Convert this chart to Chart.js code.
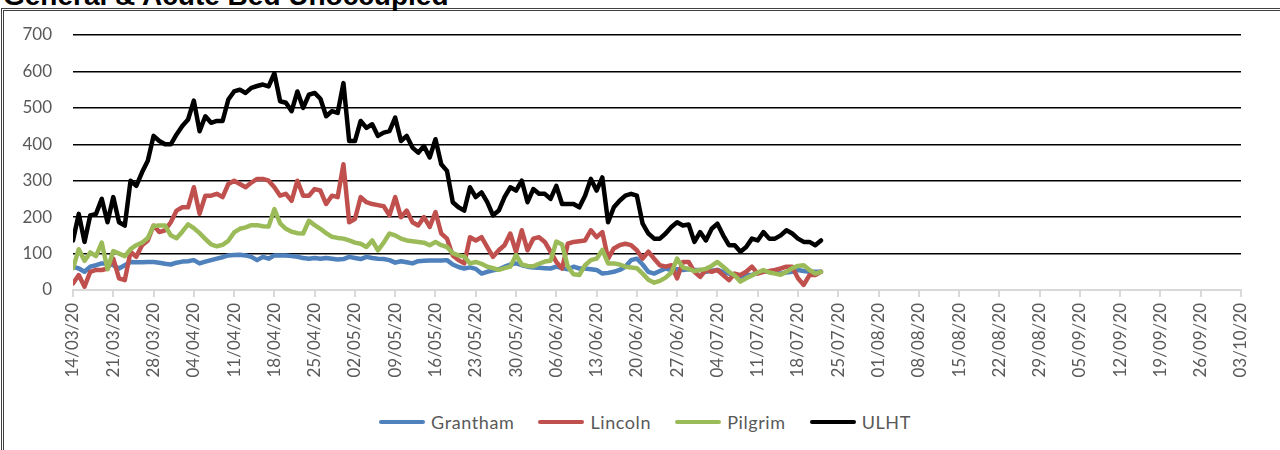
<!DOCTYPE html>
<html>
<head>
<meta charset="utf-8">
<script src="https://cdn.jsdelivr.net/npm/chart.js@4.4.0/dist/chart.umd.min.js"></script>
<style>
  html, body { margin: 0; padding: 0; background: #fff; }
  body { width: 1280px; height: 450px; overflow: hidden; position: relative; font-family: Lato, "Open Sans", sans-serif; }
  #frame { position: absolute; left: 1px; top: 8px; width: 1290px; height: 470px; border: 3px double #404040; }
  #title { position: absolute; left: 3px; top: -18px; font: bold 28px/28px "Liberation Sans", Arial, sans-serif; color: #000; white-space: nowrap; }
  #wrap { position: absolute; left: 0; top: 0; width: 1280px; height: 400px; }
  #legend { position: absolute; left: 0; top: 411px; width: 1290px; display: flex; justify-content: center; align-items: center; font-size: 18px; letter-spacing: 0.6px; color: #595959; }
  .item { display: flex; align-items: center; margin: 0 12px; }
  .swatch { display: inline-block; width: 46px; height: 4px; margin-right: 6px; border-radius: 2px; }
</style>
</head>
<body>
<div id="frame"></div>
<div id="title">General &amp; Acute Bed Unoccupied</div>
<div id="wrap"><canvas id="chart"></canvas></div>
<div id="legend"></div>
<script>
// x axis runs from 14/03/20 (day 0) to 03/10/20 (day 203), one tick a week
const tickLabels = ['14/03/20', '21/03/20', '28/03/20', '04/04/20', '11/04/20', '18/04/20', '25/04/20',
  '02/05/20', '09/05/20', '16/05/20', '23/05/20', '30/05/20', '06/06/20', '13/06/20', '20/06/20',
  '27/06/20', '04/07/20', '11/07/20', '18/07/20', '25/07/20', '01/08/20', '08/08/20', '15/08/20',
  '22/08/20', '29/08/20', '05/09/20', '12/09/20', '19/09/20', '26/09/20', '03/10/20'];
const lastDay = 203;

const seriesNames = ['Grantham', 'Lincoln', 'Pilgrim', 'ULHT'];
const seriesColors = ['#4F81BD', '#C0504D', '#9BBB59', '#000000'];

// daily values from 14/03/20
const grantham = [
  64, 59, 50, 64, 68, 73, 73, 68, 59, 68,
  77, 76, 76, 77, 77, 75, 72, 70, 75, 78,
  79, 82, 73, 78, 82, 86, 90, 95, 96, 97,
  95, 91, 82, 91, 86, 95, 95, 95, 93, 91,
  88, 86, 88, 86, 88, 86, 84, 85, 91, 88,
  85, 91, 88, 86, 85, 82, 75, 79, 76, 73,
  79, 80, 81, 81, 81, 82, 70, 63, 59, 62,
  58, 45, 50, 54, 57, 64, 70, 73, 68, 64,
  62, 61, 60, 59, 64, 60, 57, 64, 59, 59,
  57, 55, 45, 47, 50, 55, 64, 82, 86, 70,
  50, 45, 52, 59, 55, 57, 55, 57, 55, 55,
  50, 53, 55, 50, 45, 40, 36, 41, 41, 48,
  50, 50, 48, 45, 48, 50, 55, 52, 50, 50,
  50];
const lincoln = [
  18, 41, 9, 50, 55, 55, 59, 86, 32, 27,
  105, 91, 123, 136, 177, 159, 164, 186, 218, 227,
  227, 282, 209, 259, 259, 264, 255, 291, 300, 291,
  282, 295, 305, 305, 300, 282, 259, 264, 245, 300,
  259, 259, 277, 273, 236, 259, 255, 345, 186, 195,
  255, 241, 236, 233, 230, 205, 255, 200, 218, 186,
  177, 200, 173, 214, 155, 141, 95, 82, 73, 145,
  136, 145, 118, 91, 109, 123, 155, 105, 164, 109,
  141, 145, 132, 105, 77, 59, 127, 132, 134, 136,
  164, 145, 159, 86, 114, 123, 127, 123, 109, 86,
  105, 86, 68, 64, 68, 32, 77, 77, 50, 36,
  55, 50, 55, 41, 27, 45, 41, 50, 64, 45,
  50, 52, 55, 59, 64, 64, 32, 14, 41, 41,
  50];
const pilgrim = [
  60, 112, 80, 103, 93, 130, 57, 107, 100, 93,
  112, 123, 130, 143, 176, 177, 177, 150, 142, 160,
  180, 170, 156, 140, 125, 120, 124, 135, 158, 168,
  172, 178, 178, 175, 174, 222, 183, 168, 160, 156,
  155, 190, 178, 168, 156, 146, 143, 141, 136, 130,
  127, 118, 136, 109, 130, 155, 150, 141, 136, 134,
  132, 130, 123, 132, 123, 118, 101, 95, 92, 73,
  77, 72, 64, 60, 55, 60, 64, 96, 70, 66,
  65, 72, 78, 80, 133, 125, 64, 43, 41, 68,
  82, 86, 110, 73, 73, 70, 64, 62, 60, 45,
  28, 20, 25, 34, 48, 86, 62, 58, 52, 55,
  58, 66, 77, 64, 50, 40, 23, 32, 40, 48,
  55, 48, 45, 42, 50, 60, 66, 68, 55, 45,
  50];
const ulht = [
  136, 209, 132, 205, 209, 250, 186, 255, 186, 177,
  300, 286, 323, 355, 423, 409, 400, 400, 427, 450,
  468, 520, 436, 477, 459, 464, 464, 523, 545, 550,
  541, 555, 560, 564, 559, 595, 518, 514, 491, 545,
  500, 536, 541, 525, 477, 491, 486, 568, 409, 409,
  464, 445, 455, 423, 432, 436, 473, 409, 423, 391,
  377, 395, 364, 414, 345, 327, 241, 227, 218, 282,
  255, 268, 241, 205, 218, 255, 282, 273, 300, 241,
  277, 264, 264, 250, 286, 236, 236, 236, 227, 259,
  305, 273, 309, 186, 227, 245, 259, 264, 259, 182,
  155, 141, 141, 155, 173, 186, 177, 180, 132, 159,
  136, 168, 182, 150, 123, 123, 105, 118, 141, 136,
  159, 141, 141, 150, 164, 155, 141, 132, 132, 123,
  136];

const allSeries = [grantham, lincoln, pilgrim, ulht];

const legend = document.getElementById('legend');
seriesNames.forEach((name, i) => {
  const item = document.createElement('div');
  item.className = 'item';
  item.innerHTML = '<span class="swatch" style="background:' + seriesColors[i] + '"></span>' + name;
  legend.appendChild(item);
});

new Chart(document.getElementById('chart'), {
  type: 'line',
  data: {
    datasets: allSeries.map((values, i) => ({
      label: seriesNames[i],
      data: values.map((v, day) => ({ x: day, y: v })),
      borderColor: seriesColors[i],
      backgroundColor: seriesColors[i],
      borderWidth: 4.5,
      borderJoinStyle: 'round',
      borderCapStyle: 'round',
      pointRadius: 0,
      tension: 0,
      order: allSeries.length - 1 - i,
    })),
  },
  options: {
    responsive: true,
    maintainAspectRatio: false,
    animation: false,
    layout: { padding: { left: 4, top: 35, right: 39, bottom: 0 } },
    plugins: {
      legend: { display: false },
      tooltip: { enabled: false },
    },
    scales: {
      x: {
        type: 'linear',
        min: 0,
        max: lastDay,
        afterFit: (s) => { s.height = 110; },
        border: { color: '#D9D9D9', width: 2 },
        grid: { drawOnChartArea: false, color: '#D9D9D9', lineWidth: 2, tickLength: 7 },
        ticks: {
          stepSize: 7,
          autoSkip: false,
          maxRotation: 90,
          minRotation: 90,
          padding: 6,
          color: '#595959',
          font: { family: 'Lato', size: 17 },
          callback: (v) => tickLabels[Math.round(v / 7)],
        },
      },
      y: {
        min: 0,
        max: 700,
        afterFit: (s) => { s.width = 69; },
        border: { display: false },
        grid: {
          drawTicks: false,
          lineWidth: 1.5,
          color: (c) => (c.tick && c.tick.value === 0 ? 'rgba(0,0,0,0)' : '#000'),
        },
        ticks: {
          stepSize: 100,
          padding: 21,
          color: '#595959',
          font: { family: 'Lato', size: 17 },
        },
      },
    },
  },
});
</script>
</body>
</html>
